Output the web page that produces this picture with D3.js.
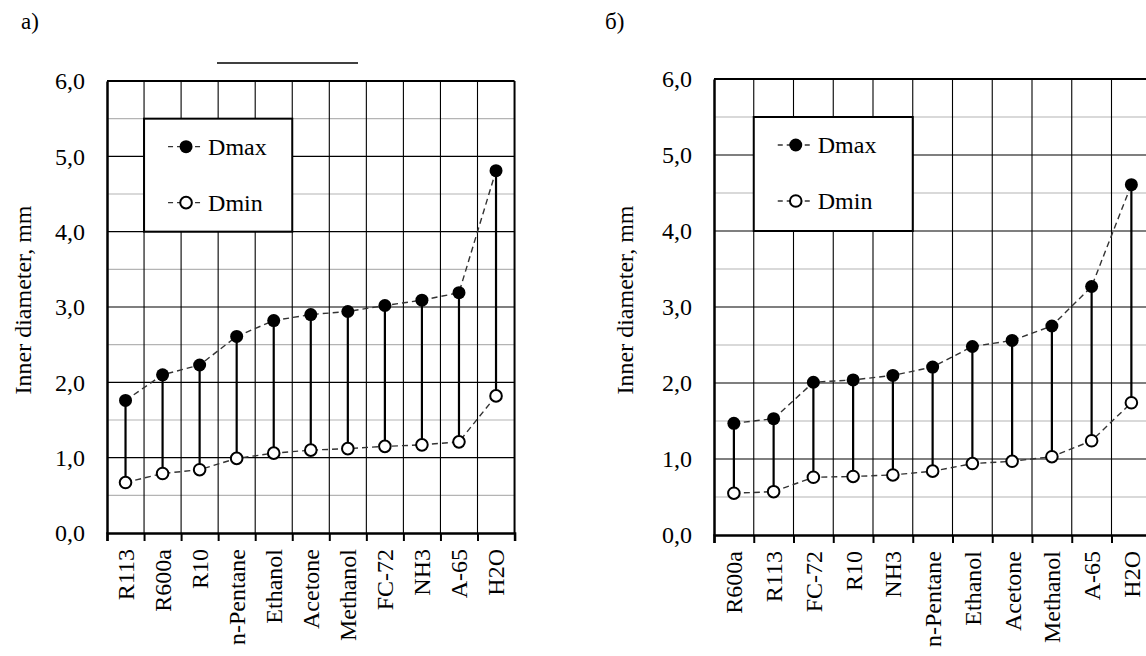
<!DOCTYPE html>
<html>
<head>
<meta charset="utf-8">
<script src="https://cdn.jsdelivr.net/npm/d3@7"></script>
<style>
  html, body { margin: 0; padding: 0; background: #fff; }
  svg { display: block; }
  text { font-family: "Liberation Serif", "Times New Roman", serif; fill: #000; }
</style>
</head>
<body>
<svg id="chart" width="1146" height="656" font-family="Liberation Serif, serif"></svg>
<script>
// ---- Data ----
const catsA = ["R113", "R600a", "R10", "n-Pentane", "Ethanol", "Acetone", "Methanol", "FC-72", "NH3", "A-65", "H2O"];
const dmaxA = [1.76, 2.10, 2.23, 2.61, 2.82, 2.90, 2.94, 3.02, 3.09, 3.19, 4.81];
const dminA = [0.67, 0.79, 0.84, 0.99, 1.06, 1.10, 1.12, 1.15, 1.17, 1.21, 1.82];

const catsB = ["R600a", "R113", "FC-72", "R10", "NH3", "n-Pentane", "Ethanol", "Acetone", "Methanol", "A-65", "H2O"];
const dmaxB = [1.47, 1.53, 2.01, 2.04, 2.10, 2.21, 2.48, 2.56, 2.75, 3.27, 4.61];
const dminB = [0.55, 0.57, 0.76, 0.77, 0.79, 0.84, 0.94, 0.97, 1.03, 1.24, 1.74];

const yTicks = [0, 1, 2, 3, 4, 5, 6];
const yTickLabels = ["0,0", "1,0", "2,0", "3,0", "4,0", "5,0", "6,0"];
const yMinor = [0.5, 1.5, 2.5, 3.5, 4.5, 5.5];
const yTitle = "Inner diameter, mm";
const seriesNames = ["Dmax", "Dmin"];

const svg = d3.select("#chart");
const FONT = 24;
const FF = "Liberation Serif, serif";

function drawPanel(cfg) {
  const { cats, dmax, dmin, left, step, top, bottom, panelLabel, labelX, titleX } = cfg;
  const right = left + step * cats.length;
  const x = d3.scaleBand().domain(cats).range([left, right]).paddingInner(0).paddingOuter(0);
  const xb = d3.scaleLinear().domain([0, cats.length]).range([left, right]);
  const y = d3.scaleLinear().domain([0, 6]).range([bottom, top]);
  const g = svg.append("g");
  const cx = c => x(c) + x.bandwidth() / 2;

  // panel label
  g.append("text").attr("x", labelX).attr("y", 29).attr("font-family", FF).attr("font-size", 23).text(panelLabel);

  // minor horizontal grid
  g.append("g").selectAll("line").data(yMinor).join("line")
    .attr("x1", left).attr("x2", right).attr("y1", d => y(d)).attr("y2", d => y(d))
    .attr("stroke", "#b4b4b4").attr("stroke-width", 1.2);
  // major horizontal grid
  g.append("g").selectAll("line").data(yTicks.slice(1, -1)).join("line")
    .attr("x1", left).attr("x2", right).attr("y1", d => y(d)).attr("y2", d => y(d))
    .attr("stroke", "#000").attr("stroke-width", 1.1);
  // vertical grid at category boundaries
  g.append("g").selectAll("line").data(d3.range(1, cats.length)).join("line")
    .attr("x1", d => xb(d)).attr("x2", d => xb(d)).attr("y1", top).attr("y2", bottom)
    .attr("stroke", "#000").attr("stroke-width", 1.1);

  // frame
  g.append("line").attr("x1", left).attr("x2", right).attr("y1", top).attr("y2", top)
    .attr("stroke", "#000").attr("stroke-width", 2);
  g.append("line").attr("x1", right).attr("x2", right).attr("y1", top).attr("y2", bottom)
    .attr("stroke", "#000").attr("stroke-width", 2);

  // x axis with boundary ticks
  const xAxisTicks = d3.axisBottom(xb).tickValues(d3.range(0, cats.length + 1)).tickSize(8).tickFormat("");
  const gx = g.append("g").attr("transform", `translate(0,${bottom})`).call(xAxisTicks);
  gx.select(".domain").attr("stroke-width", 2.5);
  gx.selectAll(".tick line").attr("stroke-width", 2);

  // category labels
  const xAxisLabels = d3.axisBottom(x).tickSize(0);
  const gl = g.append("g").attr("transform", `translate(0,${bottom})`).call(xAxisLabels)
    .attr("font-family", FF).attr("font-size", FONT);
  gl.select(".domain").remove();
  gl.selectAll("text")
    .attr("transform", "rotate(-90)")
    .attr("x", -16).attr("y", 0).attr("dy", "0.35em")
    .attr("text-anchor", "end")
    .attr("font-family", FF)
    .attr("font-size", FONT);

  // y axis
  const yAxis = d3.axisLeft(y).tickValues(yTicks).tickSize(0).tickPadding(22)
    .tickFormat((d, i) => yTickLabels[i]);
  const gy = g.append("g").attr("transform", `translate(${left},0)`).call(yAxis)
    .attr("font-family", FF).attr("font-size", FONT);
  gy.select(".domain").attr("stroke-width", 2.5);
  gy.selectAll("text").attr("font-family", FF).attr("font-size", FONT).attr("dy", "0.32em");

  // y title
  g.append("text")
    .attr("transform", `translate(${titleX},${(top + bottom) / 2 - 7}) rotate(-90)`)
    .attr("text-anchor", "middle").attr("dy", "0.35em")
    .attr("font-family", FF).attr("font-size", FONT).text(yTitle);

  // dashed connecting lines
  const seriesLine = d3.line().x((d, i) => cx(cats[i])).y(d => y(d));
  g.append("path").datum(dmax).attr("d", seriesLine).attr("fill", "none")
    .attr("stroke", "#333").attr("stroke-width", 1.4).attr("stroke-dasharray", "6,4");
  g.append("path").datum(dmin).attr("d", seriesLine).attr("fill", "none")
    .attr("stroke", "#333").attr("stroke-width", 1.4).attr("stroke-dasharray", "6,4");

  // stems
  g.append("g").selectAll("line").data(cats).join("line")
    .attr("x1", d => cx(d)).attr("x2", d => cx(d))
    .attr("y1", (d, i) => y(dmin[i])).attr("y2", (d, i) => y(dmax[i]))
    .attr("stroke", "#000").attr("stroke-width", 2.2);

  // markers
  g.append("g").selectAll("circle").data(dmax).join("circle")
    .attr("cx", (d, i) => cx(cats[i])).attr("cy", d => y(d)).attr("r", 6.5).attr("fill", "#000");
  g.append("g").selectAll("circle").data(dmin).join("circle")
    .attr("cx", (d, i) => cx(cats[i])).attr("cy", d => y(d)).attr("r", 5.8)
    .attr("fill", "#fff").attr("stroke", "#000").attr("stroke-width", 2);

  // legend box (spans category boundary 1..5, y 5.5..4.0)
  const lx0 = xb(1), lx1 = xb(5), ly0 = y(5.5), ly1 = y(4.0);
  const lg = g.append("g");
  lg.append("rect").attr("x", lx0).attr("y", ly0).attr("width", lx1 - lx0).attr("height", ly1 - ly0)
    .attr("fill", "#fff").attr("stroke", "#000").attr("stroke-width", 2);
  const rowsY = [ly0 + 28, ly0 + 84];
  seriesNames.forEach((name, i) => {
    const ry = rowsY[i];
    lg.append("line").attr("x1", lx0 + 24).attr("x2", lx0 + 58).attr("y1", ry).attr("y2", ry)
      .attr("stroke", "#333").attr("stroke-width", 1.3).attr("stroke-dasharray", "5,4");
    if (i === 0) {
      lg.append("circle").attr("cx", lx0 + 42).attr("cy", ry).attr("r", 6.5).attr("fill", "#000");
    } else {
      lg.append("circle").attr("cx", lx0 + 42).attr("cy", ry).attr("r", 5.8)
        .attr("fill", "#fff").attr("stroke", "#000").attr("stroke-width", 2);
    }
    lg.append("text").attr("x", lx0 + 64).attr("y", ry).attr("dy", "0.35em")
      .attr("font-family", FF).attr("font-size", FONT).text(name);
  });
  return g;
}

drawPanel({ cats: catsA, dmax: dmaxA, dmin: dminA, left: 107, step: 37.05, top: 81, bottom: 533,
  panelLabel: "а)", labelX: 21, titleX: 23 });
drawPanel({ cats: catsB, dmax: dmaxB, dmin: dminB, left: 714, step: 39.75, top: 79, bottom: 535,
  panelLabel: "б)", labelX: 605, titleX: 625 });

// stray line above left panel
svg.append("line").attr("x1", 217).attr("x2", 358).attr("y1", 63).attr("y2", 63)
  .attr("stroke", "#000").attr("stroke-width", 1.5);
</script>
</body>
</html>
